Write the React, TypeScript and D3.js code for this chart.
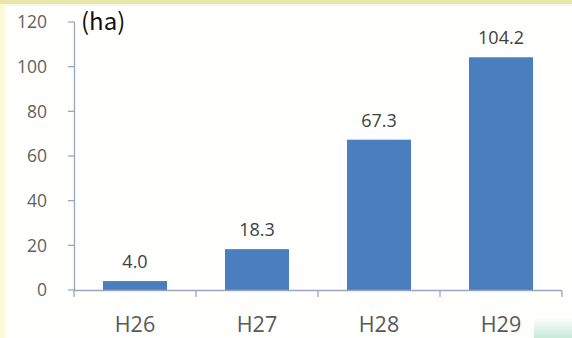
import React from "react";
import * as d3 from "d3";

const categories = ["H26", "H27", "H28", "H29"];
const values = [4.0, 18.3, 67.3, 104.2];
const yTicks = [0, 20, 40, 60, 80, 100, 120];
const unitLabel = "(ha)";

const W = 572;
const H = 338;

export default function App() {
  const x = d3.scaleBand<string>().domain(categories).range([74, 562]).paddingInner(0.475).paddingOuter(0.2375);
  const y = d3.scaleLinear().domain([0, 120]).range([290, 22]);
  const band = d3.scaleBand<string>().domain(categories).range([74, 562]);
  const font = "'Open Sans', 'Noto Sans', sans-serif";

  return (
    <svg width={W} height={H} style={{ position: "absolute", left: 0, top: 0, background: "#fff" }}>
      <defs>
        <linearGradient id="cornerFade" x1="0" y1="0" x2="0" y2="1">
          <stop offset="0" stopColor="#ffffff" />
          <stop offset="1" stopColor="#c6ead6" />
        </linearGradient>
      </defs>
      <rect x={0} y={0} width={W} height={H} fill="#fffffe" />
      {/* frame edges */}
      <rect x={0} y={0} width={5} height={H} fill="#fbfad6" />
      <rect x={0} y={0} width={W} height={4} fill="#e9e6ac" />
      <rect x={5} y={4} width={W - 5} height={2} fill="#f8f7e2" />
      <rect x={534} y={317} width={38} height={21} fill="url(#cornerFade)" />

      {/* y axis */}
      <line x1={74.5} x2={74.5} y1={y(120)} y2={y(0)} stroke="#9aa6be" strokeWidth={1.3} />
      {yTicks.map((t) => (
        <g key={t}>
          <line x1={68} x2={74.5} y1={y(t)} y2={y(t)} stroke="#9aa6be" strokeWidth={1.3} />
          <text x={47} y={y(t)} dy="0.36em" textAnchor="end" fontFamily={font} fontSize={17.5} fill="#5f5f5f">
            {t}
          </text>
        </g>
      ))}

      {/* bars */}
      {categories.map((c, i) => (
        <rect key={c} x={x(c)} y={y(values[i])} width={x.bandwidth()} height={y(0) - y(values[i])} fill="#4a7ebf" />
      ))}

      {/* x axis */}
      <line x1={74} x2={562} y1={290.5} y2={290.5} stroke="#9aa6be" strokeWidth={1.3} />
      {[...categories.map((c) => band(c) as number), 562].map((px, i) => (
        <line key={i} x1={px} x2={px} y1={290.5} y2={297} stroke="#9aa6be" strokeWidth={1.3} />
      ))}
      {categories.map((c) => (
        <text key={c} x={(band(c) as number) + band.bandwidth() / 2} y={332} textAnchor="middle" fontFamily={font} fontSize={21.5} fill="#595959">
          {c}
        </text>
      ))}

      {/* value labels */}
      {categories.map((c, i) => (
        <text key={c} x={(x(c) as number) + x.bandwidth() / 2} y={y(values[i]) - 13} textAnchor="middle" fontFamily={font} fontSize={18} fill="#404040">
          {values[i].toFixed(1)}
        </text>
      ))}

      <text x={81} y={30} fontFamily="'Noto Sans CJK JP', sans-serif" fontSize={24} fill="#111">
        {unitLabel}
      </text>
    </svg>
  );
}
